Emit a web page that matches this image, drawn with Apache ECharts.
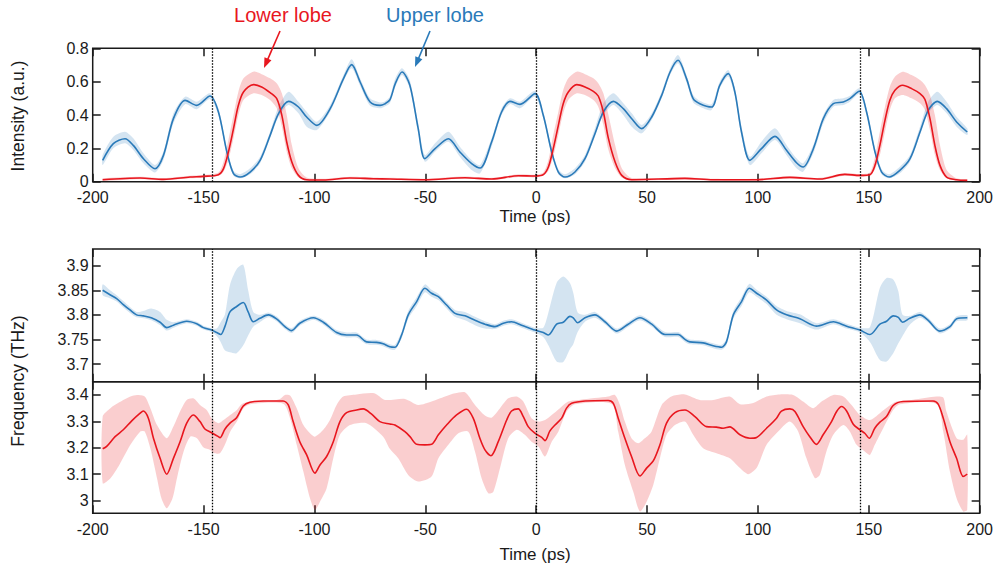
<!DOCTYPE html>
<html>
<head>
<meta charset="utf-8">
<script src="https://cdn.jsdelivr.net/npm/echarts@6/dist/echarts.min.js"></script>
<style>
html,body{margin:0;padding:0;background:#fff;}
#chart{width:996px;height:567px;}
</style>
</head>
<body>
<div id="chart"></div>
<script>
// ---------------- data ----------------
const timeTicks = [-200, -150, -100, -50, 0, 50, 100, 150, 200];
const intensityTicks = [0, 0.2, 0.4, 0.6, 0.8];
const upperFreqTicks = [3.7, 3.75, 3.8, 3.85, 3.9];
const lowerFreqTicks = [3, 3.1, 3.2, 3.3, 3.4];
const periodMarkers = [-146, 0, 146];

// Intensity, upper lobe (blue): mean [t, I]
const intUpperMean = [[-195.5,0.128],[-190.7,0.228],[-185.4,0.258],[-181.7,0.218],[-177.1,0.138],[-171.9,0.078],[-168.1,0.158],[-163.6,0.378],[-158.3,0.488],[-153.1,0.458],[-147.1,0.514],[-143.3,0.418],[-139.5,0.178],[-136.5,0.048],[-133.5,0.028],[-129,0.058],[-124.5,0.128],[-120,0.278],[-116.2,0.408],[-111.7,0.482],[-107.2,0.448],[-103.5,0.388],[-98.9,0.338],[-92.9,0.438],[-86.9,0.618],[-83.2,0.702],[-79.4,0.598],[-74.9,0.478],[-70.4,0.458],[-68.5,0.465],[-66,0.49],[-63.5,0.59],[-60.5,0.658],[-57,0.58],[-53.2,0.318],[-50.2,0.138],[-45.6,0.198],[-39.6,0.258],[-34.4,0.178],[-29.1,0.108],[-25.3,0.082],[-20.1,0.238],[-15.6,0.418],[-11.8,0.482],[-7.3,0.464],[-0.5,0.528],[3.2,0.398],[7,0.178],[10,0.058],[13,0.028],[17.5,0.058],[22,0.138],[26.5,0.288],[30.3,0.418],[34.8,0.482],[39.3,0.438],[43.1,0.378],[47.6,0.318],[52.1,0.388],[56.6,0.518],[60.4,0.658],[64,0.728],[67.8,0.618],[70.8,0.498],[73.8,0.468],[79.1,0.448],[82.8,0.578],[86.6,0.648],[89.6,0.538],[92.6,0.298],[96.4,0.128],[101.6,0.198],[107.7,0.272],[112.9,0.188],[117.4,0.114],[120.4,0.088],[125,0.198],[129.5,0.378],[134,0.468],[138.5,0.478],[141.5,0.498],[145.7,0.542],[149,0.418],[152.8,0.178],[155.8,0.058],[159.2,0.028],[164,0.068],[168.6,0.138],[173.1,0.298],[176.8,0.428],[180.9,0.482],[185.1,0.438],[189.6,0.358],[194.4,0.298]];
// Intensity, upper lobe band: [t, low, high]
const intUpperBand = [[-195.5,0.10,0.16],[-190.7,0.20,0.27],[-185.4,0.23,0.30],[-181.7,0.19,0.26],[-177.1,0.11,0.17],[-171.9,0.055,0.10],[-168.1,0.13,0.18],[-163.6,0.35,0.41],[-158.3,0.465,0.51],[-153.1,0.435,0.48],[-147.1,0.495,0.53],[-143.3,0.40,0.44],[-139.5,0.16,0.20],[-136.5,0.035,0.065],[-133.5,0.02,0.045],[-129,0.045,0.08],[-124.5,0.11,0.15],[-120,0.26,0.30],[-116.2,0.39,0.45],[-111.7,0.46,0.54],[-107.2,0.41,0.48],[-103.5,0.33,0.42],[-98.9,0.31,0.36],[-92.9,0.42,0.46],[-86.9,0.60,0.64],[-83.2,0.68,0.735],[-79.4,0.575,0.62],[-74.9,0.455,0.50],[-70.4,0.44,0.475],[-68.5,0.45,0.48],[-66,0.47,0.51],[-63.5,0.57,0.62],[-60.5,0.64,0.68],[-57,0.56,0.61],[-53.2,0.29,0.35],[-50.2,0.12,0.16],[-45.6,0.18,0.23],[-39.6,0.24,0.30],[-34.4,0.15,0.21],[-29.1,0.07,0.13],[-25.3,0.05,0.10],[-20.1,0.21,0.26],[-15.6,0.40,0.44],[-11.8,0.465,0.50],[-7.3,0.44,0.48],[-0.5,0.51,0.545],[3.2,0.38,0.42],[7,0.16,0.20],[10,0.045,0.075],[13,0.02,0.045],[17.5,0.045,0.08],[22,0.12,0.16],[26.5,0.27,0.32],[30.3,0.40,0.47],[34.8,0.46,0.53],[39.3,0.40,0.47],[43.1,0.33,0.41],[47.6,0.29,0.34],[52.1,0.37,0.41],[56.6,0.50,0.54],[60.4,0.64,0.68],[64,0.71,0.76],[67.8,0.595,0.64],[70.8,0.475,0.52],[73.8,0.45,0.485],[79.1,0.43,0.465],[82.8,0.56,0.60],[86.6,0.63,0.67],[89.6,0.515,0.56],[92.6,0.27,0.33],[96.4,0.10,0.15],[101.6,0.17,0.24],[107.7,0.25,0.32],[112.9,0.16,0.22],[117.4,0.08,0.14],[120.4,0.06,0.11],[125,0.17,0.22],[129.5,0.35,0.40],[134,0.45,0.49],[138.5,0.46,0.50],[141.5,0.48,0.515],[145.7,0.525,0.56],[149,0.40,0.44],[152.8,0.16,0.20],[155.8,0.045,0.075],[159.2,0.02,0.045],[164,0.05,0.09],[168.6,0.12,0.16],[173.1,0.28,0.33],[176.8,0.41,0.48],[180.9,0.46,0.54],[185.1,0.41,0.48],[189.6,0.33,0.39],[194.4,0.28,0.32]];

// Intensity, lower lobe (red): mean [t, I]
const intLowerMean = [[-195.5,0.012],[-178.6,0.022],[-168.1,0.014],[-156.1,0.028],[-150.1,0.032],[-143.3,0.042],[-141,0.078],[-138.8,0.178],[-136.5,0.318],[-134.3,0.458],[-132,0.538],[-127.5,0.582],[-123.8,0.568],[-120,0.534],[-117,0.498],[-114.7,0.398],[-112.5,0.238],[-110.2,0.118],[-107.2,0.038],[-103.5,0.012],[-96,0.01],[-84,0.022],[-73.4,0.018],[-65.9,0.016],[-50,0.012],[-32.1,0.024],[-20.1,0.016],[-8,0.036],[-0.5,0.034],[3.2,0.042],[5.5,0.088],[7.7,0.198],[10,0.338],[12.2,0.468],[14.5,0.538],[18.3,0.582],[22,0.568],[25.8,0.542],[28,0.514],[30.3,0.418],[32.6,0.258],[35.6,0.118],[38.6,0.038],[43.1,0.012],[67.1,0.02],[79.8,0.012],[99.4,0.012],[114.4,0.026],[128,0.016],[139.2,0.044],[146,0.038],[150.5,0.042],[152.8,0.098],[155,0.218],[157.3,0.368],[159.5,0.488],[161.8,0.548],[165.3,0.578],[169.3,0.558],[173.1,0.528],[175.3,0.494],[177.6,0.378],[179.8,0.218],[182.1,0.098],[185.1,0.028],[189.6,0.012],[194.4,0.008]];
// Intensity, lower lobe band: [t, low, high]
const intLowerBand = [[-195.5,0.006,0.02],[-178.6,0.015,0.03],[-168.1,0.008,0.022],[-156.1,0.02,0.036],[-150.1,0.025,0.04],[-143.3,0.035,0.055],[-141,0.06,0.12],[-138.8,0.13,0.25],[-136.5,0.26,0.40],[-134.3,0.40,0.54],[-132,0.49,0.62],[-127.5,0.53,0.66],[-123.8,0.52,0.645],[-120,0.49,0.62],[-117,0.44,0.59],[-114.7,0.33,0.53],[-112.5,0.18,0.40],[-110.2,0.08,0.22],[-107.2,0.025,0.08],[-103.5,0.006,0.025],[-96,0.005,0.018],[-84,0.015,0.03],[-73.4,0.011,0.025],[-65.9,0.01,0.023],[-50,0.006,0.018],[-32.1,0.017,0.031],[-20.1,0.01,0.023],[-8,0.028,0.044],[-0.5,0.026,0.042],[3.2,0.035,0.055],[5.5,0.065,0.13],[7.7,0.15,0.28],[10,0.28,0.42],[12.2,0.41,0.55],[14.5,0.49,0.62],[18.3,0.53,0.66],[22,0.52,0.645],[25.8,0.49,0.62],[28,0.45,0.59],[30.3,0.34,0.53],[32.6,0.19,0.40],[35.6,0.08,0.22],[38.6,0.025,0.08],[43.1,0.006,0.022],[67.1,0.013,0.027],[79.8,0.006,0.018],[99.4,0.006,0.018],[114.4,0.019,0.033],[128,0.01,0.023],[139.2,0.036,0.052],[146,0.03,0.046],[150.5,0.035,0.055],[152.8,0.075,0.15],[155,0.16,0.30],[157.3,0.30,0.45],[159.5,0.43,0.57],[161.8,0.50,0.63],[165.3,0.52,0.66],[169.3,0.50,0.64],[173.1,0.47,0.61],[175.3,0.43,0.58],[177.6,0.31,0.52],[179.8,0.16,0.40],[182.1,0.07,0.22],[185.1,0.02,0.07],[189.6,0.006,0.02],[194.4,0.004,0.014]];

// Frequency, upper lobe (blue): mean [t, THz]
const freqUpperMean = [[-195.5,3.850],[-192.2,3.841],[-189.2,3.833],[-186.2,3.821],[-183.2,3.810],[-180.2,3.800],[-177.2,3.798],[-173.6,3.794],[-169.6,3.785],[-166.6,3.774],[-163.6,3.779],[-157.6,3.787],[-153.1,3.782],[-150.1,3.774],[-146.4,3.769],[-144.1,3.764],[-142.3,3.760],[-140.4,3.776],[-138.1,3.806],[-135.1,3.817],[-132.1,3.825],[-129.9,3.806],[-127.6,3.786],[-124.6,3.793],[-120.8,3.800],[-117.1,3.792],[-113.3,3.776],[-110.3,3.768],[-106.6,3.783],[-100.5,3.794],[-96,3.785],[-90,3.764],[-85.5,3.759],[-81,3.759],[-76.5,3.745],[-72,3.744],[-69,3.741],[-66,3.735],[-63.7,3.734],[-60.7,3.759],[-57.7,3.800],[-53.9,3.827],[-50.2,3.854],[-47.2,3.844],[-44.1,3.837],[-40.4,3.820],[-36.6,3.803],[-32.1,3.798],[-27.6,3.789],[-23.1,3.781],[-18.6,3.776],[-14.8,3.783],[-11.1,3.786],[-6.6,3.779],[-0.6,3.769],[3.2,3.764],[5.5,3.759],[9.2,3.781],[12.2,3.785],[15.2,3.797],[16.7,3.794],[18.7,3.784],[22,3.794],[26.5,3.800],[31,3.786],[36.3,3.767],[41.5,3.781],[46.8,3.794],[52.1,3.781],[58.1,3.760],[64.1,3.760],[67.1,3.750],[69.3,3.745],[75.3,3.743],[79.8,3.737],[83.6,3.734],[85.8,3.745],[88.9,3.800],[92.6,3.827],[96.1,3.854],[99.4,3.844],[103.9,3.830],[108.4,3.810],[112.9,3.800],[118.9,3.792],[126.4,3.777],[134,3.786],[140,3.777],[146,3.769],[150.5,3.760],[155,3.781],[158,3.787],[161,3.798],[163.3,3.795],[165.2,3.785],[168.5,3.793],[173,3.800],[176.8,3.789],[182,3.767],[186.6,3.776],[189.6,3.792],[194.4,3.794]];
// Frequency, upper lobe band: [t, low, high]
const freqUpperBand = [[-195.5,3.840,3.862],[-192.2,3.834,3.850],[-189.2,3.827,3.840],[-186.2,3.815,3.828],[-183.2,3.804,3.816],[-180.2,3.795,3.806],[-177.2,3.793,3.808],[-173.6,3.789,3.813],[-169.6,3.779,3.806],[-166.6,3.768,3.790],[-163.6,3.774,3.785],[-157.6,3.783,3.791],[-153.1,3.778,3.786],[-150.1,3.770,3.778],[-146.4,3.765,3.773],[-144.1,3.757,3.772],[-142.3,3.745,3.785],[-140.4,3.728,3.800],[-138.1,3.724,3.861],[-135.1,3.722,3.893],[-132.1,3.738,3.902],[-129.9,3.758,3.850],[-127.6,3.776,3.806],[-124.6,3.785,3.800],[-120.8,3.795,3.805],[-117.1,3.787,3.797],[-113.3,3.771,3.781],[-110.3,3.763,3.773],[-106.6,3.778,3.788],[-100.5,3.790,3.798],[-96,3.780,3.790],[-90,3.759,3.769],[-85.5,3.754,3.764],[-81,3.754,3.764],[-76.5,3.740,3.750],[-72,3.739,3.749],[-69,3.736,3.746],[-66,3.730,3.740],[-63.7,3.729,3.739],[-60.7,3.752,3.766],[-57.7,3.792,3.808],[-53.9,3.818,3.836],[-50.2,3.846,3.862],[-47.2,3.837,3.851],[-44.1,3.830,3.843],[-40.4,3.813,3.826],[-36.6,3.796,3.810],[-32.1,3.789,3.806],[-27.6,3.779,3.796],[-23.1,3.772,3.787],[-18.6,3.771,3.781],[-14.8,3.778,3.788],[-11.1,3.781,3.791],[-6.6,3.774,3.784],[-0.6,3.764,3.774],[3.2,3.755,3.774],[5.5,3.738,3.805],[9.2,3.705,3.865],[12.2,3.704,3.878],[15.2,3.730,3.865],[16.7,3.740,3.845],[18.7,3.765,3.805],[22,3.786,3.800],[26.5,3.794,3.806],[31,3.781,3.791],[36.3,3.762,3.772],[41.5,3.776,3.786],[46.8,3.789,3.799],[52.1,3.776,3.786],[58.1,3.755,3.765],[64.1,3.755,3.765],[67.1,3.745,3.755],[69.3,3.740,3.750],[75.3,3.738,3.748],[79.8,3.732,3.742],[83.6,3.729,3.739],[85.8,3.738,3.752],[88.9,3.792,3.808],[92.6,3.818,3.836],[96.1,3.846,3.863],[99.4,3.837,3.851],[103.9,3.822,3.837],[108.4,3.800,3.818],[112.9,3.791,3.808],[118.9,3.783,3.801],[126.4,3.770,3.783],[134,3.781,3.791],[140,3.772,3.782],[146,3.764,3.774],[150.5,3.745,3.775],[155,3.708,3.855],[158,3.705,3.875],[161,3.722,3.872],[163.3,3.742,3.848],[165.2,3.757,3.800],[168.5,3.780,3.798],[173,3.794,3.806],[176.8,3.784,3.794],[182,3.762,3.772],[186.6,3.771,3.781],[189.6,3.787,3.797],[194.4,3.789,3.799]];

// Frequency, lower lobe (red): mean [t, THz]
const freqLowerMean = [[-195.5,3.196],[-193.7,3.205],[-189.9,3.242],[-186.2,3.268],[-182.4,3.302],[-178.6,3.331],[-177.2,3.339],[-174.9,3.312],[-172.6,3.236],[-169.6,3.160],[-166.6,3.100],[-163.6,3.160],[-160.6,3.223],[-157.6,3.293],[-154.6,3.324],[-151.6,3.299],[-149.4,3.271],[-146.4,3.257],[-143.3,3.242],[-142.6,3.238],[-140.4,3.270],[-138.1,3.293],[-135.1,3.314],[-132.1,3.358],[-129.1,3.372],[-123.1,3.377],[-114.1,3.377],[-111.8,3.362],[-109.6,3.299],[-106.6,3.223],[-103.5,3.173],[-99.8,3.104],[-97.5,3.135],[-94.5,3.167],[-91.5,3.223],[-88.5,3.299],[-85.5,3.333],[-81,3.343],[-78,3.347],[-74.2,3.327],[-70.5,3.299],[-66,3.290],[-63.7,3.286],[-59.2,3.261],[-56.9,3.242],[-53.9,3.213],[-50.2,3.211],[-47.2,3.213],[-44.1,3.249],[-40.4,3.286],[-35.9,3.324],[-31.4,3.346],[-28.4,3.312],[-25.4,3.236],[-23.1,3.192],[-20.4,3.170],[-17.1,3.223],[-13.3,3.305],[-11.1,3.339],[-8.1,3.347],[-5.8,3.318],[-3.6,3.280],[-0.6,3.255],[2.5,3.239],[4,3.227],[6.2,3.264],[8.5,3.286],[11.5,3.312],[13.7,3.350],[16,3.368],[22,3.377],[32.5,3.379],[34.8,3.368],[37,3.312],[40,3.236],[43,3.167],[46.8,3.093],[49.8,3.123],[52.8,3.150],[55.8,3.211],[58.8,3.293],[62.6,3.333],[67.1,3.343],[71.6,3.318],[76.8,3.280],[81.3,3.278],[84.3,3.274],[87.3,3.279],[91.9,3.249],[96.4,3.236],[99.4,3.239],[103.9,3.274],[108.4,3.312],[110.6,3.339],[114.4,3.347],[116.7,3.337],[120.4,3.280],[123.4,3.242],[126.4,3.213],[129.4,3.249],[133.2,3.299],[135.5,3.337],[137.7,3.356],[140,3.339],[143,3.289],[146,3.268],[148.2,3.255],[150.2,3.236],[152.7,3.274],[155,3.297],[158,3.318],[161,3.360],[165.5,3.375],[179,3.377],[181.3,3.365],[183.6,3.312],[186.6,3.223],[189.6,3.160],[192.6,3.091],[194.4,3.100]];
// Frequency, lower lobe band edges: [t, THz]
const freqLowerBandHigh = [[-195.5,3.318],[-192,3.350],[-188,3.372],[-183,3.394],[-180,3.400],[-176.5,3.394],[-174,3.350],[-171,3.286],[-166.6,3.236],[-163.6,3.280],[-160.6,3.337],[-157.6,3.381],[-154.6,3.387],[-151.6,3.362],[-148.6,3.343],[-146.4,3.312],[-143.3,3.293],[-141,3.305],[-138,3.324],[-135,3.343],[-132.9,3.365],[-129,3.375],[-120,3.378],[-115.6,3.385],[-113.3,3.400],[-111,3.398],[-108,3.350],[-105,3.286],[-102,3.255],[-99.8,3.242],[-96,3.268],[-93,3.305],[-90,3.362],[-87,3.394],[-81,3.402],[-73,3.406],[-68.2,3.381],[-59.2,3.385],[-53.2,3.362],[-47.2,3.375],[-41.1,3.394],[-36.6,3.406],[-32.1,3.410],[-27.6,3.362],[-23.1,3.322],[-20.1,3.314],[-16.3,3.350],[-12.6,3.387],[-8.8,3.394],[-5.8,3.375],[-2.1,3.312],[1,3.299],[4,3.305],[7,3.324],[10.7,3.350],[14.5,3.375],[20,3.382],[32.5,3.394],[35.5,3.400],[37.8,3.362],[40,3.299],[43,3.236],[46,3.217],[49,3.236],[52,3.261],[56.6,3.362],[61,3.394],[67,3.402],[73.8,3.381],[79.8,3.381],[87.3,3.394],[91.9,3.365],[97.9,3.369],[103.9,3.394],[109.9,3.402],[115.9,3.400],[120.4,3.375],[124.9,3.350],[128.7,3.375],[134,3.400],[138.5,3.394],[142.2,3.362],[146,3.324],[150.5,3.305],[155,3.331],[158.8,3.356],[162.5,3.375],[170,3.382],[180.5,3.394],[183.6,3.390],[185,3.337],[189.6,3.236],[192.6,3.230],[194.4,3.249]];
const freqLowerBandLow = [[-195.5,3.066],[-192,3.085],[-188,3.135],[-183,3.211],[-178.6,3.261],[-176.5,3.261],[-174,3.198],[-171,3.085],[-169,3.009],[-166.6,2.971],[-164,3.009],[-162,3.085],[-159,3.186],[-156,3.242],[-153,3.236],[-150,3.201],[-147,3.192],[-145,3.179],[-142.6,3.179],[-140.4,3.211],[-138,3.261],[-135,3.299],[-132,3.350],[-129,3.365],[-114.1,3.367],[-111,3.312],[-108,3.211],[-105,3.110],[-102,3.009],[-99.8,2.965],[-97.5,2.996],[-94.5,3.047],[-91.5,3.160],[-88.5,3.249],[-84,3.286],[-76.5,3.293],[-69,3.242],[-66,3.196],[-62.2,3.160],[-57.7,3.097],[-53.2,3.072],[-47.2,3.091],[-44.1,3.160],[-39.6,3.211],[-35.1,3.255],[-30.6,3.261],[-27.6,3.186],[-24.6,3.085],[-21.6,3.028],[-19.3,3.034],[-16.3,3.123],[-12.6,3.236],[-8.8,3.268],[-5.1,3.249],[-2.1,3.223],[1,3.205],[4,3.167],[7,3.223],[10,3.261],[13.7,3.337],[17.5,3.365],[34,3.366],[37,3.261],[40,3.135],[43.8,3.034],[46.8,2.959],[49.8,2.996],[52.8,3.059],[55.8,3.160],[58.8,3.249],[62.6,3.286],[67.1,3.299],[70.8,3.249],[75.3,3.198],[81.3,3.179],[87.3,3.160],[91.9,3.123],[95.6,3.100],[99.4,3.123],[103.9,3.211],[109.9,3.268],[114.4,3.299],[118.2,3.261],[121.9,3.160],[125.7,3.085],[127.9,3.097],[130.9,3.186],[134,3.249],[138.5,3.286],[141.5,3.261],[144.5,3.211],[148.2,3.186],[150.5,3.173],[152.7,3.211],[156.5,3.274],[161,3.343],[164,3.365],[180.5,3.366],[183.6,3.261],[186.6,3.110],[189.6,3.009],[192.6,2.959],[194.4,2.965]];

// ---------------- styling ----------------
const BLUE = '#2a7ab9';
const RED = '#e8161e';
const BLUE_BAND = 'rgba(42,122,185,0.20)';
const RED_BAND = 'rgba(232,22,30,0.21)';
const FONT = '"Liberation Sans", Arial, Helvetica, sans-serif';
const INK = '#1a1a1a';
const PLOT_LEFT = 92.7, PLOT_W = 887;

const chart = echarts.init(document.getElementById('chart'), null, {renderer: 'svg', width: 996, height: 567});

function bandSeries(hiPairs, loPairs, color, gi) {
  const poly = hiPairs.concat(loPairs.slice().reverse());
  return {
    type: 'custom', xAxisIndex: gi * 2, yAxisIndex: gi * 2, silent: true, clip: true, z: 1,
    data: [poly[0]],
    renderItem: function (params, api) {
      const pts = poly.map(function (p) { return api.coord(p); });
      return {type: 'polygon', shape: {points: pts, smooth: 0.25}, style: {fill: color, stroke: null}};
    }
  };
}
function tripleHi(b) { return b.map(function (r) { return [r[0], r[2]]; }); }
function tripleLo(b) { return b.map(function (r) { return [r[0], r[1]]; }); }

function lineSeries(data, color, gi, withMarkers) {
  const s = {
    type: 'line', data: data, xAxisIndex: gi * 2, yAxisIndex: gi * 2,
    showSymbol: false, smooth: 0.3, silent: true, z: 3,
    lineStyle: {color: color, width: 1.6}, itemStyle: {color: color}
  };
  if (withMarkers) {
    s.markLine = {
      silent: true, symbol: 'none', animation: false,
      label: {show: false},
      lineStyle: {type: [1.5, 1.5], color: '#000', width: 1.3},
      data: periodMarkers.map(function (t) { return {xAxis: t}; })
    };
  }
  return s;
}

const tick = {show: true, inside: true, length: 8, lineStyle: {color: INK, width: 1.5}};
const labelStyle = {color: INK, fontSize: 16, fontFamily: FONT};
const noLine = {show: false, onZero: false};

function xPair(gi, showLabels) {
  return [
    {gridIndex: gi, type: 'value', position: 'bottom', min: timeTicks[0], max: timeTicks[timeTicks.length - 1], interval: 50,
     axisLine: noLine, splitLine: {show: false}, axisTick: tick,
     axisLabel: Object.assign({show: showLabels, margin: 8}, labelStyle)},
    {gridIndex: gi, type: 'value', position: 'top', min: timeTicks[0], max: timeTicks[timeTicks.length - 1], interval: 50,
     axisLine: noLine, splitLine: {show: false}, axisTick: tick, axisLabel: {show: false}}
  ];
}
function yPair(gi, min, max, ticks) {
  const tk = Object.assign({}, tick, {customValues: ticks});
  return [
    {gridIndex: gi, type: 'value', position: 'left', min: min, max: max,
     axisLine: noLine, splitLine: {show: false}, axisTick: tk,
     axisLabel: Object.assign({show: true, margin: 4, customValues: ticks}, labelStyle)},
    {gridIndex: gi, type: 'value', position: 'right', min: min, max: max,
     axisLine: noLine, splitLine: {show: false}, axisTick: tk, axisLabel: {show: false, customValues: ticks}}
  ];
}

function arrow(x1, y1, x2, y2, color) {
  const dx = x2 - x1, dy = y2 - y1, L = Math.sqrt(dx * dx + dy * dy);
  const ux = dx / L, uy = dy / L, hl = 10, hw = 3.8;
  const bx = x2 - ux * hl, by = y2 - uy * hl;
  return [
    {type: 'line', silent: true, shape: {x1: x1, y1: y1, x2: bx + ux * 2, y2: by + uy * 2}, style: {stroke: color, lineWidth: 1.6}},
    {type: 'polygon', silent: true, shape: {points: [[x2, y2], [bx - uy * hw, by + ux * hw], [bx + uy * hw, by - ux * hw]]}, style: {fill: color}}
  ];
}

const option = {
  animation: false,
  backgroundColor: '#fff',
  grid: [
    {left: PLOT_LEFT, top: 48.3, width: PLOT_W, height: 133.4, show: true, borderColor: INK, borderWidth: 1.5, backgroundColor: 'transparent', containLabel: false},
    {left: PLOT_LEFT, top: 249, width: PLOT_W, height: 132.7, show: true, borderColor: INK, borderWidth: 1.5, backgroundColor: 'transparent', containLabel: false},
    {left: PLOT_LEFT, top: 381.7, width: PLOT_W, height: 131.6, show: true, borderColor: INK, borderWidth: 1.5, backgroundColor: 'transparent', containLabel: false}
  ],
  xAxis: [].concat(xPair(0, true), xPair(1, false), xPair(2, true)),
  yAxis: [].concat(
    yPair(0, intensityTicks[0], intensityTicks[intensityTicks.length - 1], intensityTicks),
    yPair(1, 3.664, 3.934, upperFreqTicks),
    yPair(2, 2.952, 3.450, lowerFreqTicks)
  ),
  series: [
    bandSeries(tripleHi(intUpperBand), tripleLo(intUpperBand), BLUE_BAND, 0),
    bandSeries(tripleHi(intLowerBand), tripleLo(intLowerBand), RED_BAND, 0),
    lineSeries(intUpperMean, BLUE, 0, true),
    lineSeries(intLowerMean, RED, 0, false),
    bandSeries(tripleHi(freqUpperBand), tripleLo(freqUpperBand), BLUE_BAND, 1),
    lineSeries(freqUpperMean, BLUE, 1, true),
    bandSeries(freqLowerBandHigh, freqLowerBandLow, RED_BAND, 2),
    lineSeries(freqLowerMean, RED, 2, true)
  ],
  graphic: [
    {type: 'text', silent: true, style: {text: 'Lower lobe', x: 283, y: 15, align: 'center', verticalAlign: 'middle', fill: RED, fontSize: 20, fontFamily: FONT}},
    {type: 'text', silent: true, style: {text: 'Upper lobe', x: 435, y: 15, align: 'center', verticalAlign: 'middle', fill: BLUE, fontSize: 20, fontFamily: FONT}},
    {type: 'text', silent: true, style: {text: 'Time (ps)', x: 535, y: 216, align: 'center', verticalAlign: 'middle', fill: INK, fontSize: 17, fontFamily: FONT}},
    {type: 'text', silent: true, style: {text: 'Time (ps)', x: 535, y: 554, align: 'center', verticalAlign: 'middle', fill: INK, fontSize: 17, fontFamily: FONT}},
    {type: 'text', silent: true, x: 18, y: 116, rotation: Math.PI / 2, style: {text: 'Intensity (a.u.)', x: 0, y: 0, align: 'center', verticalAlign: 'middle', fill: INK, fontSize: 17.5, fontFamily: FONT}},
    {type: 'text', silent: true, x: 18, y: 381, rotation: Math.PI / 2, style: {text: 'Frequency (THz)', x: 0, y: 0, align: 'center', verticalAlign: 'middle', fill: INK, fontSize: 17.5, fontFamily: FONT}}
  ].concat(arrow(280, 31, 264, 68, RED), arrow(430, 31, 415, 67, BLUE))
};
chart.setOption(option);
</script>
</body>
</html>
